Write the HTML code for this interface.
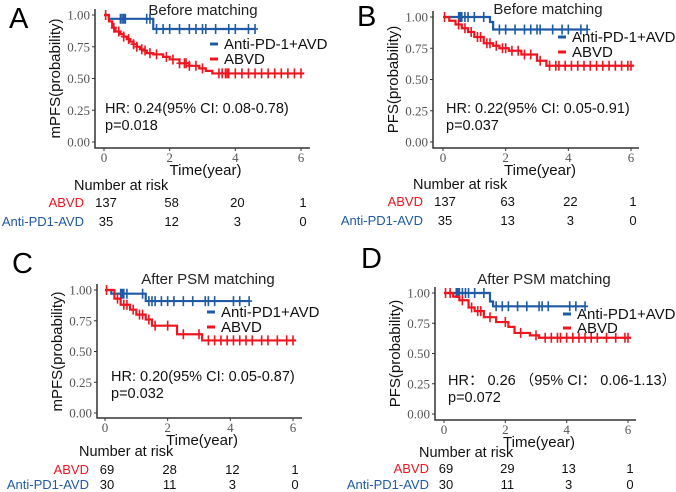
<!DOCTYPE html>
<html><head><meta charset="utf-8"><style>
html,body{margin:0;padding:0;background:#fff}
svg{display:block;font-family:"Liberation Sans",sans-serif}
</style></head><body>
<svg id="fig" width="676" height="492" viewBox="0 0 676 492"></svg>
<script>
// ---- data ----
const tickLabels=["0.00","0.25","0.50","0.75","1.00"];
const xTicks=[0,2,4,6];
const aRedT=[0,0.15,0.25,0.35,0.5,0.6,0.7,0.8,0.9,1.0,1.1,1.2,1.3,1.5,1.8,2.0,2.3,2.6,2.9,3.1,3.3];
const aRedS=[1,0.95,0.9,0.87,0.85,0.83,0.81,0.79,0.77,0.75,0.73,0.72,0.70,0.69,0.67,0.65,0.62,0.60,0.58,0.56,0.54];
const aRedC=[0.3,0.45,0.6,0.75,0.9,1.0,1.15,1.25,1.4,1.6,1.9,2.1,2.3,2.45,2.5,2.6,2.8,3.0,3.5,3.6,3.7,3.75,3.8,4.0,4.2,4.4,4.6,4.8,5.0,5.2,5.4,5.6,5.8,6.0];
const aBlueT=[0,0.15,1.5];const aBlueS=[1,0.97,0.89];
const aBlueC=[0.5,0.55,0.6,0.65,1.3,1.4,1.6,1.8,2.0,2.3,2.6,2.8,3.0,3.1,3.4,3.8,4.0,4.4,4.6];
const bRedT=[0,0.2,0.4,0.6,0.8,1.0,1.3,1.6,1.8,2.1,2.5,3.0,3.3];
const bRedS=[1,0.97,0.94,0.91,0.88,0.84,0.79,0.77,0.75,0.73,0.70,0.65,0.61];
const bRedC=[0.5,0.7,0.9,1.1,1.2,1.4,1.5,1.7,1.9,2.0,2.2,2.4,2.6,2.8,3.1,3.4,3.6,3.7,3.9,4.1,4.3,4.5,4.7,4.9,5.1,5.3,5.5,5.7,5.9,6.0];
const bBlueT=[0,1.5,1.6];const bBlueS=[1,0.96,0.90];
const bBlueC=[0.5,0.55,0.6,0.7,0.8,1.0,1.3,1.8,2.0,2.3,2.6,2.8,3.0,3.1,3.5,3.8,4.0,4.4,4.6];
const cRedT=[0,0.3,0.5,0.8,1.0,1.3,1.5,2.3,3.1];
const cRedS=[1,0.93,0.88,0.84,0.80,0.76,0.71,0.64,0.59];
const cRedC=[0.4,0.6,0.7,0.9,1.1,1.2,1.4,1.6,2.0,2.5,3.0,3.3,3.5,3.7,3.9,4.1,4.3,4.5,4.7,5.0,5.2,5.5,5.8,6.0];
const cBlueT=[0,0.2,1.3];const cBlueS=[1,0.97,0.91];
const cBlueC=[0.5,0.55,0.6,0.7,1.2,1.4,1.5,1.6,1.8,2.0,2.2,2.5,2.8,3.2,3.3,3.5,4.1,4.3,4.6];
const dRedT=[0,0.3,0.5,0.8,1.0,1.3,1.7,2.1,2.3,2.8,3.1];
const dRedS=[1,0.97,0.94,0.88,0.85,0.80,0.76,0.72,0.67,0.65,0.63];
const dRedC=[0.2,0.6,0.9,1.1,1.2,1.5,2.0,2.5,3.0,3.3,3.5,3.7,3.8,4.0,4.2,4.4,4.6,4.8,5.0,5.3,5.6,5.9,6.0];
const dBlueT=[0,1.5,1.6];const dBlueS=[1,0.93,0.89];
const dBlueC=[0.4,0.45,0.5,0.6,0.7,0.8,1.0,1.3,1.7,1.9,2.1,2.4,2.7,3.1,3.2,3.4,4.1,4.3,4.6];
const riskA=[[137,58,20,1],[35,12,3,0]];
const riskB=[[137,63,22,1],[35,13,3,0]];
const riskC=[[69,28,12,1],[30,11,3,0]];
const riskD=[[69,29,13,1],[30,11,3,0]];
const pvals=["p=0.018","p=0.037","p=0.032","p=0.072"];

const panels=[
{id:"a",letter:"A",lx:9,ly:28,ax:95,y1:15,y0:142,x0:104,x6:301,xa:148,xe:310,title:"Before matching",tx:203,ty:15,lgx:210,lgy:44,lgy2:59,leg1:"Anti-PD-1+AVD",hr:"HR: 0.24(95% CI: 0.08-0.78)",hx:105,hy:113,py:130,ylab:"mPFS(probability)",nary:190,r1:207,r2:226,lr:84,red:[aRedT,aRedS,aRedC],blue:[aBlueT,aBlueS,aBlueC],risk:riskA,tend:6.1,bend:4.6},
{id:"b",letter:"B",lx:357,ly:26,ax:433,y1:17,y0:142,x0:443,x6:631,xa:148,xe:639,title:"Before matching",tx:548,ty:14,lgx:558,lgy:37,lgy2:52,leg1:"Anti-PD-1+AVD",hr:"HR: 0.22(95% CI: 0.05-0.91)",hx:446,hy:113,py:130,ylab:"PFS(probability)",nary:189,r1:206,r2:225,lr:423,red:[bRedT,bRedS,bRedC],blue:[bBlueT,bBlueS,bBlueC],risk:riskB,tend:6.1,bend:4.6},
{id:"c",letter:"C",lx:12,ly:273,ax:97,y1:290,y0:413,x0:105,x6:293,xa:418,xe:302,title:"After PSM matching",tx:208,ty:284,lgx:207,lgy:312,lgy2:327,leg1:"Anti-PD1+AVD",hr:"HR: 0.20(95% CI: 0.05-0.87)",hx:111,hy:381,py:398,ylab:"mPFS(probability)",nary:456,r1:474,r2:489,lr:89,red:[cRedT,cRedS,cRedC],blue:[cBlueT,cBlueS,cBlueC],risk:riskC,tend:6.1,bend:4.6},
{id:"d",letter:"D",lx:361,ly:268,ax:435,y1:293,y0:414,x0:444,x6:628,xa:420,xe:636,title:"After PSM matching",tx:544,ty:284,lgx:563,lgy:314,lgy2:328,leg1:"Anti-PD1+AVD",hr:"HR\uFF1A 0.26 \uFF0895% CI\uFF1A 0.06-1.13\uFF09",hx:448,hy:385,py:402,ylab:"PFS(probability)",nary:457,r1:473,r2:489,lr:429,red:[dRedT,dRedS,dRedC],blue:[dBlueT,dBlueS,dBlueC],risk:riskD,tend:6.1,bend:4.6}
];
const NS="http://www.w3.org/2000/svg";
const svg=document.getElementById("fig");
function mk(tag,attrs,parent,text){const e=document.createElementNS(NS,tag);for(const k in attrs)e.setAttribute(k,attrs[k]);if(text!==undefined)e.textContent=text;parent.appendChild(e);return e;}
const RED="#f0141e",BLUE="#1f5aa6";
panels.forEach((p,pi)=>{
  const g=mk("g",{},svg);
  
  
  const X=t=>p.x0+(p.x6-p.x0)*t/6;
  const Y=s=>p.y0+(p.y1-p.y0)*s;
  let e=mk("text",{x:p.lx,y:p.ly,"font-size":29,fill:"#000"},g,p.letter);
  
  e=mk("text",{x:p.tx,y:p.ty,"font-size":15,"text-anchor":"middle",fill:"#222"},g,p.title);
  
  e=mk("path",{d:`M${p.ax} ${p.y1-6}V${p.xa}H${p.xe}`,stroke:"#333","stroke-width":1.5,fill:"none"},g);
  
  tickLabels.forEach((lab,i)=>{
    const y=Y(i*0.25);
    mk("line",{x1:p.ax-3,x2:p.ax,y1:y,y2:y,stroke:"#333"},g);
    const t=mk("text",{x:p.ax-5,y:y+4.5,"font-size":13,"text-anchor":"end",fill:"#555","font-family":"Liberation Serif,serif"},g,lab);
    
  });
  xTicks.forEach(v=>{
    const x=X(v);
    mk("line",{x1:x,x2:x,y1:p.xa,y2:p.xa+3,stroke:"#333"},g);
    const t=mk("text",{x:x,y:p.xa+14,"font-size":13,"text-anchor":"middle",fill:"#555","font-family":"Liberation Serif,serif"},g,v);
    
  });
  e=mk("text",{x:(p.x0+p.x6)/2+3,y:p.xa+27,"font-size":15,"text-anchor":"middle",fill:"#111"},g,"Time(year)");
  
  const cy=(p.y0+p.y1)/2;
  e=mk("text",{x:0,y:0,"font-size":15,"text-anchor":"middle",fill:"#111",transform:`translate(${p.ax-35},${cy}) rotate(-90)`},g,p.ylab);
  
  [[p.blue,BLUE,p.bend,"blue"],[p.red,RED,p.tend,"red"]].forEach(([d,col,end,nm])=>{
    const [T,S,C]=d;
    let path=`M${X(T[0])} ${Y(S[0])}`;
    for(let i=1;i<T.length;i++){path+=`H${X(T[i])}V${Y(S[i])}`;}
    path+=`H${X(end)}`;
    const l=mk("path",{d:path,stroke:col,"stroke-width":2.2,fill:"none"},g);
    
    
    const sAt=t=>{let s=S[0];for(let i=0;i<T.length;i++)if(T[i]<=t)s=S[i];return s;};
    C.forEach(t=>{
      const x=X(t),y=Y(sAt(t));
      const c=mk("path",{d:`M${x} ${y-5}V${y+5}M${x-3} ${y}H${x+3}`,stroke:col,"stroke-width":1.6},g);
      
      
    });
  });
  mk("path",{d:`M${X(0.05)} ${Y(1)-5}V${Y(1)+5}`,stroke:RED,"stroke-width":1.6},g);
  e=mk("line",{x1:p.lgx,x2:p.lgx+8,y1:p.lgy,y2:p.lgy,stroke:BLUE,"stroke-width":3},g);
  
  e=mk("text",{x:p.lgx+14,y:p.lgy+5,"font-size":15,fill:"#111"},g,p.leg1);
  
  e=mk("line",{x1:p.lgx,x2:p.lgx+8,y1:p.lgy2,y2:p.lgy2,stroke:RED,"stroke-width":3},g);
  
  e=mk("text",{x:p.lgx+14,y:p.lgy2+5,"font-size":15,fill:"#111"},g,"ABVD");
  
  e=mk("text",{x:p.hx,y:p.hy,"font-size":14.5,fill:"#111","font-family":"Liberation Sans,Noto Sans CJK SC,sans-serif"},g,p.hr);
  
  e=mk("text",{x:p.hx,y:p.py,"font-size":14.5,fill:"#111"},g,pvals[pi]);
  
  e=mk("text",{x:p.lr-10,y:p.nary,"font-size":14.5,fill:"#111"},g,"Number  at risk");
  
  e=mk("text",{x:p.lr,y:p.r1,"font-size":13,"text-anchor":"end",fill:RED},g,"ABVD");
  
  e=mk("text",{x:p.lr,y:p.r2,"font-size":13,"text-anchor":"end",fill:BLUE},g,"Anti-PD1-AVD");
  
  p.risk.forEach((row,ri)=>{
    row.forEach((v,i)=>{
      const t=mk("text",{x:X(xTicks[i])+2,y:ri?p.r2:p.r1,"font-size":13,"text-anchor":"middle",fill:"#111"},g,v);
      
      
    });
  });
});
</script>
</body></html>
